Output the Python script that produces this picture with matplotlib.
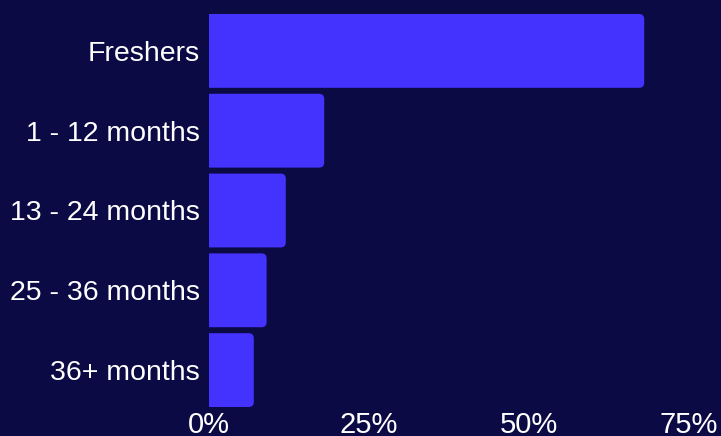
import matplotlib
matplotlib.use("Agg")
import matplotlib.pyplot as plt
from matplotlib.patches import FancyBboxPatch

categories = ["Freshers", "1 - 12 months", "13 - 24 months", "25 - 36 months", "36+ months"]
values = [68, 18, 12, 9, 7]
xticks = [0, 25, 50, 75]
xticklabels = ["0%", "25%", "50%", "75%"]

bg = "#0c0a45"
bar_color = "#4433ff"

plt.rcParams['font.family'] = ['Liberation Sans', 'DejaVu Sans']

W, H = 721, 436
fig = plt.figure(figsize=(W / 100, H / 100), dpi=100, facecolor=bg)
ax = fig.add_axes([209 / W, (H - 410) / H, (W - 209) / W, (410 - 11) / H])
ax.set_facecolor(bg)

ypos = list(range(len(categories)))
bars = ax.barh(ypos, values, height=0.925, color=bar_color)
ax.set_xlim(0, 80)
ax.set_ylim(len(categories) - 0.5, -0.5)

# replace with rounded bars
for b in bars:
    x0, y0 = b.get_x(), b.get_y()
    w, h = b.get_width(), b.get_height()
    b.set_visible(False)
    p = FancyBboxPatch((x0 - 2, y0), w + 2, h,
                       boxstyle="round,pad=0,rounding_size=0.8",
                       mutation_aspect=0.08,
                       facecolor=bar_color, edgecolor="none", clip_on=True)
    ax.add_patch(p)

ax.set_yticks(ypos)
ax.set_yticklabels(categories, fontsize=20.5, color="white")
ax.set_xticks(xticks)
ax.set_xticklabels(xticklabels, fontsize=21, color="white")
ax.tick_params(axis='both', length=0)
ax.tick_params(axis='y', pad=6.5)
ax.tick_params(axis='x', pad=1)
for s in ax.spines.values():
    s.set_visible(False)

fig.savefig("out.png", dpi=100, facecolor=bg)
